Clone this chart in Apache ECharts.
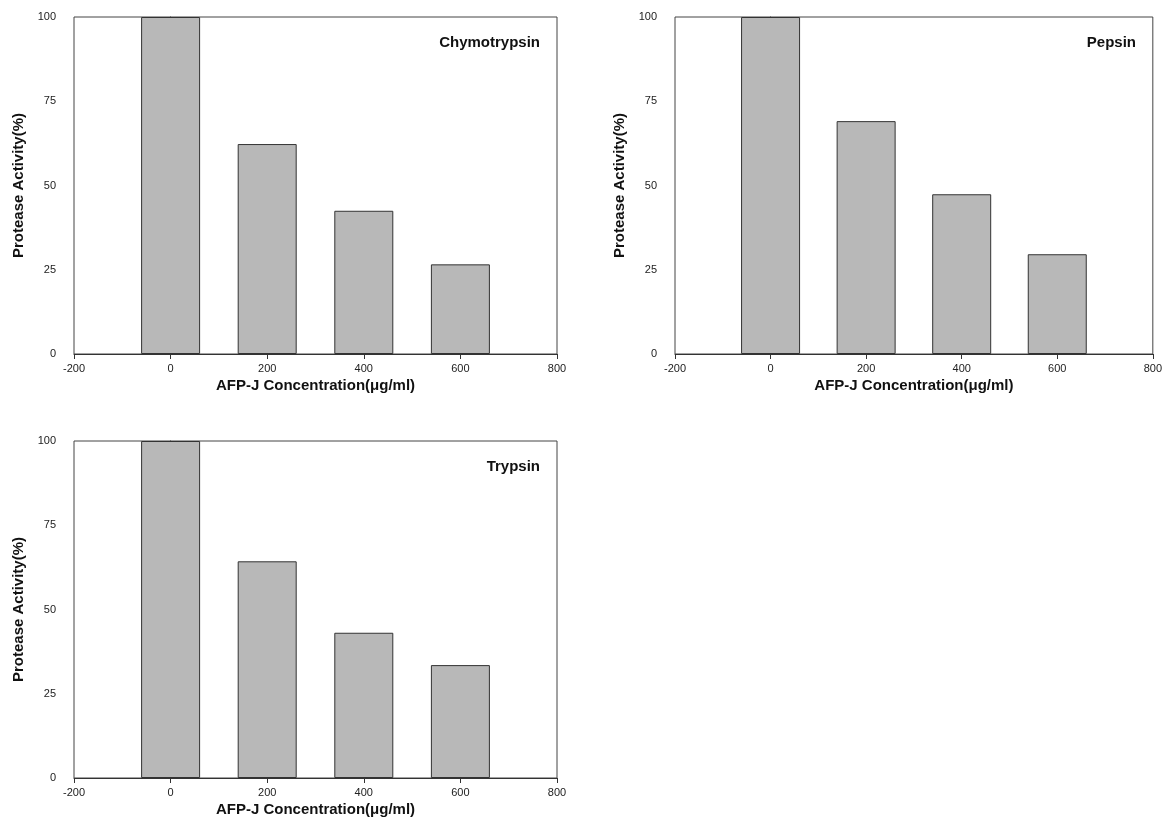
<!DOCTYPE html>
<html>
<head>
<meta charset="utf-8">
<script src="https://cdn.jsdelivr.net/npm/echarts@6/dist/echarts.min.js"></script>
<style>html,body{margin:0;padding:0;background:#fff}#c{width:1165px;height:833px}</style>
</head>
<body>
<div id="c"></div>
<script>
const concentrations = [0, 200, 400, 600];
const chymotrypsin = [100, 62.3, 42.5, 26.6];
const pepsin = [100, 69.1, 47.4, 29.6];
const trypsin = [100, 64.3, 43.1, 33.5];
const panelNames = ['Chymotrypsin', 'Pepsin', 'Trypsin'];
const xTitle = 'AFP-J Concentration(\u03bcg/ml)';
const yTitle = 'Protease Activity(%)';

const font = 'Liberation Sans, Arial, sans-serif';
const grids = [
  {left: 74, top: 17, width: 483, height: 337},
  {left: 675, top: 17, width: 481, height: 337},
  {left: 74, top: 441, width: 483, height: 337}
];
const titlePos = [
  {right: 625, top: 35},
  {right: 29, top: 35},
  {right: 625, top: 459}
];
const seriesData = [chymotrypsin, pepsin, trypsin];

const option = {
  backgroundColor: '#fff',
  animation: false,
  title: panelNames.map((n, i) => ({
    text: n, right: titlePos[i].right, top: titlePos[i].top, padding: 0,
    textStyle: {fontFamily: font, fontSize: 15, fontWeight: 'bold', color: '#111'}
  })),
  grid: grids.map(g => Object.assign({show: true, borderColor: '#444', borderWidth: 1, backgroundColor: '#fff'}, g)),
  xAxis: grids.map((g, i) => ({
    type: 'value', gridIndex: i, min: -200, max: 800, interval: 200,
    name: xTitle, nameLocation: 'middle', nameGap: 24,
    nameTextStyle: {fontFamily: font, fontSize: 15, fontWeight: 'bold', color: '#111'},
    axisLine: {show: true, lineStyle: {color: '#333', width: 1}},
    axisTick: {show: true, length: 5, lineStyle: {color: '#333'}},
    axisLabel: {fontFamily: font, fontSize: 11, color: '#222', margin: 9},
    splitLine: {show: false}
  })),
  yAxis: grids.map((g, i) => ({
    type: 'value', gridIndex: i, min: 0, max: 100, interval: 25,
    name: yTitle, nameLocation: 'middle', nameGap: 48,
    nameTextStyle: {fontFamily: font, fontSize: 15, fontWeight: 'bold', color: '#111'},
    axisLine: {show: true, lineStyle: {color: '#333', width: 1}},
    axisTick: {show: true, length: 5, lineStyle: {color: '#333'}},
    axisLabel: {fontFamily: font, fontSize: 11, color: '#222', margin: 18},
    splitLine: {show: false}
  })),
  series: seriesData.map((vals, i) => ({
    type: 'bar', xAxisIndex: i, yAxisIndex: i,
    data: concentrations.map((c, j) => [c, vals[j]]),
    barWidth: 59,
    itemStyle: {color: '#b8b8b8', borderColor: '#333', borderWidth: 1}
  }))
};
echarts.init(document.getElementById('c')).setOption(option);
</script>
</body>
</html>
